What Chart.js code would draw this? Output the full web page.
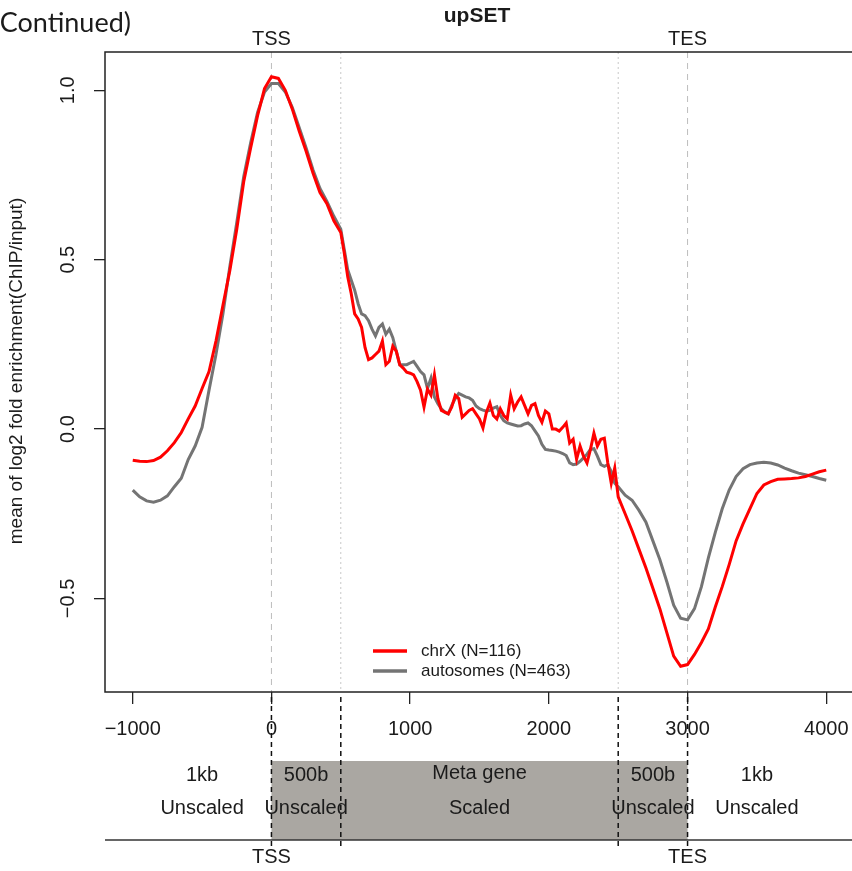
<!DOCTYPE html>
<html>
<head>
<meta charset="utf-8">
<script src="https://cdn.jsdelivr.net/npm/chart.js@4.4.1/dist/chart.umd.min.js"></script>
<style>
  html, body { margin: 0; padding: 0; background: #fff; overflow: hidden; }
  canvas { display: block; }
</style>
</head>
<body>
<canvas id="profile" width="862" height="871"></canvas>
<script>
// bin positions (bp): 50bp steps in the unscaled flanks, 25bp in the scaled body
const positions = [
  -1000, -950, -900, -850, -800, -750, -700, -650, -600, -550,
  -500, -450, -400, -350, -300, -250, -200, -150, -100, -50,
  0, 50, 100, 150, 200, 250, 300, 350, 400, 450,
  500, 525, 550, 575, 600, 625, 650, 675, 700, 725, 750, 775, 800, 825, 850, 875,
  900, 925, 950, 975, 1000, 1025, 1050, 1075, 1100, 1125, 1150, 1175, 1200, 1225,
  1250, 1275, 1300, 1325, 1350, 1375, 1400, 1425, 1450, 1475, 1500, 1525, 1550, 1575,
  1600, 1625, 1650, 1675, 1700, 1725, 1750, 1775, 1800, 1825, 1850, 1875, 1900, 1925,
  1950, 1975, 2000, 2025, 2050, 2075, 2100, 2125, 2150, 2175, 2200, 2225, 2250, 2275,
  2300, 2325, 2350, 2375, 2400, 2425, 2450, 2475, 2500,
  2550, 2600, 2650, 2700, 2750, 2800, 2850, 2900, 2950, 3000,
  3050, 3100, 3150, 3200, 3250, 3300, 3350, 3400, 3450, 3500,
  3550, 3600, 3650, 3700, 3750, 3800, 3850, 3900, 3950, 4000
];

const chrX = [
  -0.092, -0.095, -0.096, -0.093, -0.083, -0.064, -0.04, -0.01, 0.03, 0.068,
  0.12, 0.17, 0.26, 0.365, 0.468, 0.59, 0.73, 0.83, 0.925, 1.005,
  1.04, 1.035, 1.0, 0.945, 0.88, 0.82, 0.755, 0.698, 0.665, 0.615,
  0.58, 0.52, 0.45, 0.40, 0.34, 0.325, 0.30, 0.24, 0.205, 0.21, 0.22, 0.23, 0.26, 0.19, 0.2, 0.245,
  0.23, 0.19, 0.18, 0.168, 0.165, 0.16, 0.14, 0.115, 0.065, 0.118, 0.10, 0.16, 0.09, 0.055,
  0.05, 0.045, 0.065, 0.10, 0.09, 0.035, 0.045, 0.055, 0.06, 0.045, 0.03, 0.003, 0.05, 0.077,
  0.04, 0.03, 0.06, 0.04, 0.03, 0.10, 0.06, 0.08, 0.095, 0.07, 0.045, 0.07, 0.075, 0.04,
  0.02, 0.053, 0.045, 0.0, 0.0, -0.006, 0.005, 0.018, -0.041, -0.03, -0.089, -0.05, -0.08, -0.1,
  -0.06, -0.012, -0.05, -0.03, -0.027, -0.1, -0.16, -0.115, -0.2,
  -0.25, -0.30, -0.355, -0.41, -0.47, -0.53, -0.60, -0.67, -0.70, -0.695,
  -0.665, -0.63, -0.59, -0.525, -0.465, -0.40, -0.33, -0.28, -0.235, -0.19,
  -0.165, -0.155, -0.148, -0.147, -0.146, -0.144, -0.14, -0.133, -0.126, -0.121
];

const autosomes = [
  -0.18, -0.2, -0.212, -0.216, -0.21, -0.197, -0.17, -0.145, -0.09, -0.05,
  0.005, 0.115, 0.22, 0.34, 0.48, 0.61, 0.745, 0.845, 0.935, 0.995,
  1.02, 1.02, 0.995, 0.95, 0.89, 0.83, 0.765, 0.71, 0.672, 0.628,
  0.59, 0.53, 0.47, 0.44, 0.41, 0.37, 0.34, 0.335, 0.32, 0.295, 0.275, 0.30, 0.31, 0.28, 0.295, 0.27,
  0.23, 0.19, 0.19, 0.19, 0.195, 0.20, 0.185, 0.17, 0.16, 0.12, 0.15, 0.095, 0.075, 0.06,
  0.05, 0.045, 0.07, 0.09, 0.105, 0.1, 0.095, 0.092, 0.085, 0.068, 0.06, 0.056, 0.053, 0.055,
  0.062, 0.066, 0.04, 0.025, 0.018, 0.015, 0.012, 0.009, 0.01, 0.015, 0.018, 0.01, -0.005, -0.02,
  -0.045, -0.06, -0.062, -0.063, -0.065, -0.068, -0.072, -0.078, -0.1, -0.105, -0.103, -0.095, -0.085, -0.074,
  -0.06, -0.058, -0.08, -0.105, -0.11, -0.105, -0.125, -0.16, -0.17,
  -0.195, -0.21, -0.24, -0.275, -0.33, -0.385, -0.45, -0.52, -0.558, -0.563,
  -0.53, -0.465, -0.38, -0.305, -0.235, -0.18, -0.14, -0.117, -0.105, -0.1,
  -0.098, -0.1, -0.106, -0.115, -0.123, -0.13, -0.135, -0.14, -0.146, -0.151
];

const seriesNames = ['chrX (N=116)', 'autosomes (N=463)'];
const seriesColors = ['#ff0000', '#747474'];

const xTicks = [-1000, 0, 1000, 2000, 3000, 4000];
const xTickLabels = ['\u22121000', '0', '1000', '2000', '3000', '4000'];
const yTicks = [-0.5, 0.0, 0.5, 1.0];
const yTickLabels = ['\u22120.5', '0.0', '0.5', '1.0'];

const landmarks = [0, 3000];
const landmarkNames = ['TSS', 'TES'];
const innerEdges = [500, 2500];
const regionCenters = [-500, 250, 1500, 2750, 3500];
const regionTop = ['1kb', '500b', 'Meta gene', '500b', '1kb'];
const regionBottom = ['Unscaled', 'Unscaled', 'Scaled', 'Unscaled', 'Unscaled'];

const FONT = '"Liberation Sans", Arial, sans-serif';
const INK = '#1b1b1b';

function text(ctx, str, x, y, font, align, angle) {
  ctx.save();
  ctx.font = font;
  ctx.fillStyle = INK;
  ctx.textAlign = align || 'center';
  ctx.textBaseline = 'middle';
  ctx.translate(x, y);
  if (angle) ctx.rotate(angle);
  ctx.fillText(str, 0, 0);
  ctx.restore();
}

function vline(ctx, x, y0, y1, color, width, dash) {
  ctx.save();
  ctx.strokeStyle = color;
  ctx.lineWidth = width;
  ctx.setLineDash(dash);
  ctx.beginPath();
  ctx.moveTo(x, y0);
  ctx.lineTo(x, y1);
  ctx.stroke();
  ctx.restore();
}

const annotate = {
  id: 'annotate',
  beforeDatasetsDraw(chart) {
    const { ctx, chartArea: a, scales: { x } } = chart;
    landmarks.forEach(v => vline(ctx, x.getPixelForValue(v), a.top, a.bottom, '#bdbdbd', 1, [6, 5]));
    innerEdges.forEach(v => vline(ctx, x.getPixelForValue(v), a.top, a.bottom, '#c8c8c8', 1, [2, 3]));
  },
  afterDraw(chart) {
    const { ctx, chartArea: a, scales: { x, y } } = chart;

    // plot frame
    ctx.save();
    ctx.strokeStyle = '#222';
    ctx.lineWidth = 1.5;
    ctx.strokeRect(a.left, a.top, a.right - a.left, a.bottom - a.top);
    ctx.restore();

    // titles
    text(ctx, '(Continued)', 131, 23, '27px Lato, "Open Sans", sans-serif', 'right');
    text(ctx, 'upSET', 477, 16, 'bold 21px ' + FONT);
    landmarks.forEach((v, i) => text(ctx, landmarkNames[i], x.getPixelForValue(v), 39, '20px ' + FONT));

    // y axis
    yTicks.forEach((v, i) => text(ctx, yTickLabels[i], 68, y.getPixelForValue(v), '20px ' + FONT, 'center', -Math.PI / 2));
    text(ctx, 'mean of log2 fold enrichment(ChIP/input)', 17, 371, '19px ' + FONT, 'center', -Math.PI / 2);

    // x axis labels
    xTicks.forEach((v, i) => text(ctx, xTickLabels[i], x.getPixelForValue(v), 729, '20px ' + FONT));

    // gene model strip
    const tss = x.getPixelForValue(landmarks[0]);
    const tes = x.getPixelForValue(landmarks[1]);
    ctx.save();
    ctx.fillStyle = '#aaa7a2';
    ctx.fillRect(tss, 761, tes - tss, 79);
    ctx.strokeStyle = '#333';
    ctx.lineWidth = 1.5;
    ctx.beginPath();
    ctx.moveTo(a.left, 840);
    ctx.lineTo(a.right, 840);
    ctx.stroke();
    ctx.restore();
    landmarks.concat(innerEdges).forEach(v =>
      vline(ctx, x.getPixelForValue(v), 697, 846, '#111', 1.5, [5, 4]));
    regionCenters.forEach((v, i) => {
      const px = x.getPixelForValue(v);
      text(ctx, regionTop[i], px, i === 2 ? 773 : 775, '20px ' + FONT);
      text(ctx, regionBottom[i], px, 808, '20px ' + FONT);
    });
    landmarks.forEach((v, i) => text(ctx, landmarkNames[i], x.getPixelForValue(v), 857, '20px ' + FONT));

    // legend
    seriesNames.forEach((name, i) => {
      const ly = 651 + i * 20;
      ctx.save();
      ctx.strokeStyle = seriesColors[i];
      ctx.lineWidth = 3.5;
      ctx.beginPath();
      ctx.moveTo(373, ly);
      ctx.lineTo(407, ly);
      ctx.stroke();
      ctx.restore();
      text(ctx, name, 421, ly, '17px ' + FONT, 'left');
    });
  }
};

const datasets = [chrX, autosomes].map((vals, i) => ({
  label: seriesNames[i],
  data: positions.map((p, j) => ({ x: p, y: vals[j] })),
  borderColor: seriesColors[i],
  borderWidth: 3,
  pointRadius: 0,
  tension: 0,
  fill: false
}));

new Chart(document.getElementById('profile'), {
  type: 'line',
  data: { datasets },
  options: {
    responsive: false,
    animation: false,
    layout: { padding: { left: 0, top: 52, right: 8, bottom: 0 } },
    plugins: { legend: { display: false }, tooltip: { enabled: false } },
    scales: {
      x: {
        type: 'linear',
        min: -1200,
        max: 4200,
        afterBuildTicks: s => { s.ticks = xTicks.map(v => ({ value: v })); },
        afterFit: s => { s.height = 179; },
        grid: { drawOnChartArea: false, drawTicks: true, tickLength: 12, color: '#222', lineWidth: 1.3 },
        border: { display: false },
        ticks: { display: false }
      },
      y: {
        type: 'linear',
        min: -0.776,
        max: 1.113,
        afterBuildTicks: s => { s.ticks = yTicks.map(v => ({ value: v })); },
        afterFit: s => { s.width = 105; },
        grid: { drawOnChartArea: false, drawTicks: true, tickLength: 11, color: '#222', lineWidth: 1.3 },
        border: { display: false },
        ticks: { display: false }
      }
    }
  },
  plugins: [annotate]
});
</script>
</body>
</html>
